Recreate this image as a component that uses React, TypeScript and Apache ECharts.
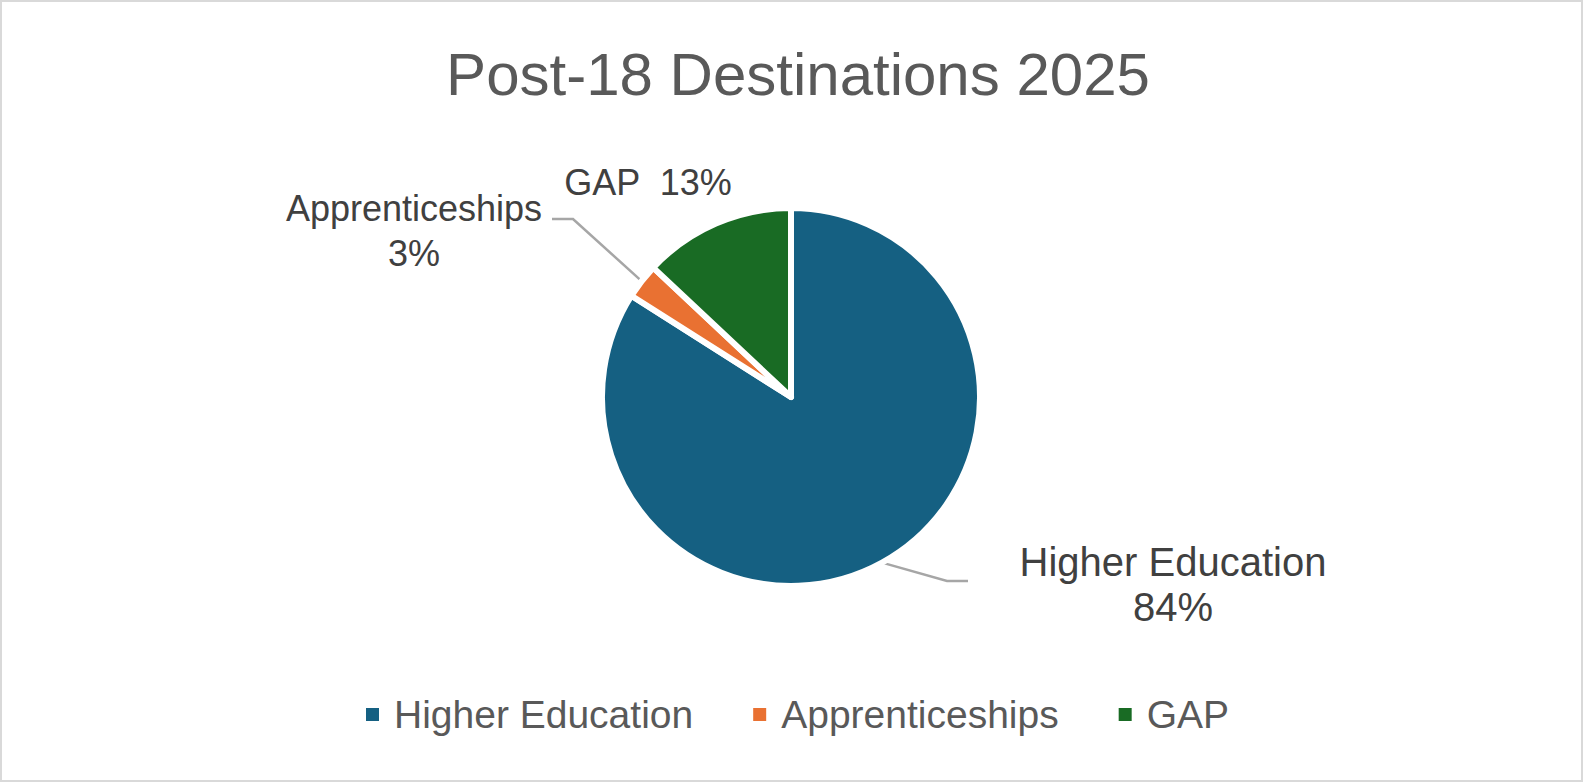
import React, { useEffect, useRef } from "react";
import * as echarts from "echarts";

const titleText = "Post-18 Destinations 2025";
const categories = ["Higher Education", "Apprenticeships", "GAP"];
const values = [84, 3, 13];
const colors = ["#156082", "#E97132", "#196B24"];

// label placement (layout only)
const labelPos = [
  { x: 1173, y: 584 },
  { x: 414, y: 231 },
  { x: 648, y: 182 },
];
const labelLineTail: (number[][] | null)[] = [
  [
    [947, 581],
    [968, 581],
  ],
  [
    [573, 219],
    [552, 219],
  ],
  null,
];
const labelFont = [40, 36, 36];

export default function App() {
  const ref = useRef<HTMLDivElement>(null);
  useEffect(() => {
    if (!ref.current) return;
    const chart = echarts.init(ref.current, null, { renderer: "svg" });
    const font = "'Liberation Sans', Arial, sans-serif";
    chart.setOption({
      animation: false,
      backgroundColor: "#ffffff",
      title: {
        text: titleText,
        left: 798,
        textAlign: "center",
        top: 44,
        padding: 0,
        textStyle: {
          fontFamily: font,
          fontSize: 60,
          fontWeight: "normal",
          color: "#595959",
        },
      },
      legend: {
        data: categories,
        left: 364,
        top: 695,
        padding: 0,
        itemWidth: 15,
        itemHeight: 15,
        itemGap: 58,
        icon: "rect",
        textStyle: {
          fontFamily: font,
          fontSize: 39,
          color: "#595959",
          padding: [0, 0, 0, 9],
        },
      },
      graphic: [
        {
          type: "rect",
          shape: { x: 1, y: 1, width: 1581, height: 780 },
          style: { fill: "none", stroke: "#d9d9d9", lineWidth: 2 },
          silent: true,
        },
      ],
      series: [
        {
          type: "pie",
          center: [791, 397],
          radius: 189,
          startAngle: 90,
          clockwise: true,
          avoidLabelOverlap: false,
          itemStyle: {
            borderColor: "#ffffff",
            borderWidth: 6,
            borderJoin: "round",
          },
          label: {
            show: true,
            position: "outside",
            fontFamily: font,
            color: "#404040",
            lineHeight: 45,
            align: "center",
            formatter: (p: any) =>
              p.dataIndex === 2
                ? `${p.name}  ${Math.round(p.percent)}%`
                : `${p.name}\n${Math.round(p.percent)}%`,
          },
          labelLine: {
            show: true,
            lineStyle: { color: "#a6a6a6", width: 2.5 },
          },
          labelLayout: (params: any) => {
            const i = params.dataIndex;
            const res: any = {
              x: labelPos[i].x,
              y: labelPos[i].y,
              align: "center",
              verticalAlign: "middle",
            };
            const tail = labelLineTail[i];
            if (tail && params.labelLinePoints) {
              res.labelLinePoints = [params.labelLinePoints[0], ...tail];
            }
            return res;
          },
          data: categories.map((name, i) => ({
            name,
            value: values[i],
            itemStyle: { color: colors[i] },
            label: { fontSize: labelFont[i] },
            labelLine: { show: labelLineTail[i] !== null },
          })),
        },
      ],
    });
    return () => chart.dispose();
  }, []);
  return (
    <div
      ref={ref}
      style={{ position: "absolute", left: 0, top: 0, width: 1584, height: 783 }}
    />
  );
}
